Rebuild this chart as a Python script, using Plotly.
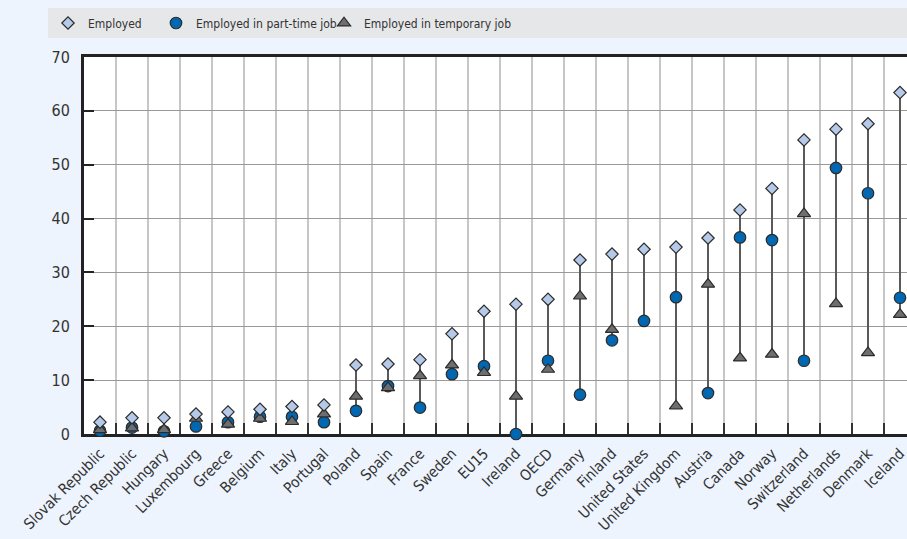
import plotly.graph_objects as go

countries = ["Slovak Republic", "Czech Republic", "Hungary", "Luxembourg", "Greece",
             "Belgium", "Italy", "Portugal", "Poland", "Spain", "France", "Sweden",
             "EU15", "Ireland", "OECD", "Germany", "Finland", "United States",
             "United Kingdom", "Austria", "Canada", "Norway", "Switzerland",
             "Netherlands", "Denmark", "Iceland"]

employed = [2.2, 3.0, 3.0, 3.7, 4.1, 4.6, 5.1, 5.4, 12.8, 13.0, 13.8, 18.6,
            22.8, 24.1, 25.0, 32.3, 33.4, 34.3, 34.7, 36.4, 41.6, 45.6, 54.6,
            56.6, 57.6, 63.4]
part_time = [0.6, 1.2, 0.5, 1.4, 2.2, 3.2, 3.2, 2.2, 4.3, 8.9, 4.9, 11.1,
             12.6, 0.0, 13.6, 7.3, 17.4, 21.0, 25.4, 7.6, 36.5, 36.0, 13.6,
             49.4, 44.7, 25.3]
temporary = [0.8, 1.1, 0.8, 2.9, 1.8, 2.9, 2.3, 3.7, 7.0, 8.6, 10.8, 12.8,
             11.4, 7.0, 12.0, 25.6, 19.4, None, 5.2, 27.8, 14.1, 14.8, 40.9,
             24.2, 15.1, 22.2]

y_ticks = [0, 10, 20, 30, 40, 50, 60, 70]

FONT = "DejaVu Sans Condensed, Roboto, sans-serif"
TXT = "#333333"
OUTLINE = "#2b2b2b"

# vertical range lines built from the data
lx, ly = [], []
for c, a, b, t in zip(countries, employed, part_time, temporary):
    vals = [v for v in (a, b, t) if v is not None]
    lx += [c, c, None]
    ly += [min(vals), max(vals), None]

fig = go.Figure()
fig.add_trace(go.Scatter(x=lx, y=ly, mode="lines", showlegend=False,
                         line=dict(color="#5a5a5a", width=2), hoverinfo="skip",
                         cliponaxis=False))
fig.add_trace(go.Scatter(x=countries, y=part_time, mode="markers",
                         name="Employed in part-time job", legend="legend2",
                         cliponaxis=False,
                         marker=dict(symbol="circle", size=11.5, color="#0068b3",
                                     line=dict(color=OUTLINE, width=1.2))))
fig.add_trace(go.Scatter(x=countries, y=temporary, mode="markers",
                         name="Employed in temporary job", legend="legend3",
                         cliponaxis=False,
                         marker=dict(symbol="triangle-up", size=11.5, color="#6e6e6e",
                                     line=dict(color=OUTLINE, width=1.2))))
fig.add_trace(go.Scatter(x=countries, y=employed, mode="markers",
                         name="Employed", legend="legend",
                         cliponaxis=False,
                         marker=dict(symbol="diamond", size=9.5, color="#b5c9e9",
                                     line=dict(color=OUTLINE, width=1.2))))

W, H = 907, 539
ML, MT, MB = 84, 57, 105
pw = 907 - ML
ph = H - MT - MB

def px_x(p):
    return (p - ML) / pw

def px_y(p):
    return (H - MB - p) / ph

leg_common = dict(orientation="h", bgcolor="rgba(0,0,0,0)", borderwidth=0,
                  font=dict(family=FONT, size=12, color=TXT),
                  yanchor="middle", y=px_y(23), xanchor="left")

fig.update_layout(
    width=W, height=H,
    margin=dict(l=ML, r=0, t=MT, b=MB, pad=0, autoexpand=False),
    paper_bgcolor="#edf4fd",
    plot_bgcolor="#ffffff",
    font=dict(family=FONT, size=15, color=TXT),
    legend=dict(**leg_common, x=px_x(48)),
    legend2=dict(**leg_common, x=px_x(156)),
    legend3=dict(**leg_common, x=px_x(324)),
    shapes=[dict(type="rect", xref="paper", yref="paper", layer="below",
                 x0=px_x(48), x1=1.0, y0=px_y(38), y1=px_y(8),
                 fillcolor="#e6e7e9", line=dict(width=0))],
    xaxis=dict(
        type="category", categoryorder="array", categoryarray=countries,
        range=[-0.5, -0.5 + pw / 32.0],
        tickson="boundaries", ticks="inside", ticklen=11, tickwidth=2,
        tickcolor="#333333",
        showgrid=True, gridcolor="#c6c6c6", gridwidth=2,
        showline=True, linecolor="#222222", linewidth=3, mirror=True,
        tickangle=-45, tickfont=dict(family=FONT, size=15, color=TXT),
        ticklabelstandoff=2, automargin=False,
        layer="below traces", zeroline=False,
    ),
    yaxis=dict(
        range=[0, 70], tickvals=y_ticks, ticktext=[str(v) for v in y_ticks],
        ticks="inside", ticklen=10, tickwidth=2, tickcolor="#222222",
        showgrid=True, gridcolor="#999999", gridwidth=1,
        showline=True, linecolor="#222222", linewidth=3, mirror=False,
        zeroline=False, tickfont=dict(family=FONT, size=16, color=TXT),
        ticklabelstandoff=8, automargin=False,
        layer="below traces",
    ),
)

fig.write_html("out.html", config={"displayModeBar": False})

# remove the default page margin so the figure fills the window exactly
css = "<style>html,body{margin:0;padding:0;overflow:hidden;}</style>"
with open("out.html", encoding="utf-8") as f:
    html = f.read()
html = html.replace("<head>", "<head>" + css, 1)
with open("out.html", "w", encoding="utf-8") as f:
    f.write(html)
